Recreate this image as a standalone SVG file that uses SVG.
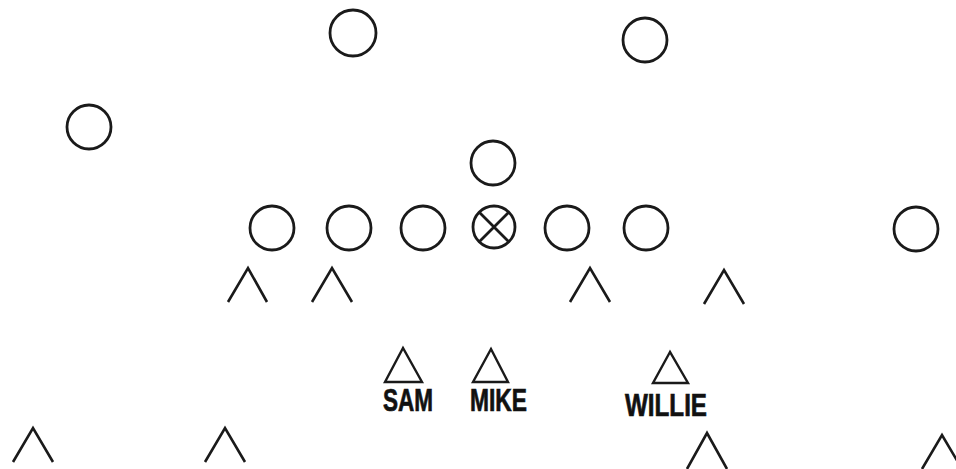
<svg xmlns="http://www.w3.org/2000/svg" width="956" height="469" viewBox="0 0 956 469">
<style>
.o{fill:none;stroke:#1a1a1a;stroke-width:2.8}
.v{fill:none;stroke:#1a1a1a;stroke-width:2.6;stroke-linejoin:miter}
.t{fill:none;stroke:#1a1a1a;stroke-width:2.4}
.lbl{font-family:"Liberation Sans",Arial,sans-serif;font-weight:bold;font-size:31px;fill:#111;stroke:#111;stroke-width:0.7}
</style>
<rect width="956" height="469" fill="#fff"/>
<g id="offense">
<g id="o1"><circle class="o" cx="353" cy="33" r="23"/></g>
<g id="o2"><circle class="o" cx="645" cy="40" r="22"/></g>
<g id="o3"><circle class="o" cx="89" cy="127" r="22"/></g>
<g id="o4"><circle class="o" cx="493" cy="163" r="22"/></g>
<g id="o5"><circle class="o" cx="272" cy="228" r="22"/></g>
<g id="o6"><circle class="o" cx="349" cy="228" r="22"/></g>
<g id="o7"><circle class="o" cx="423" cy="228" r="22"/></g>
<g id="center"><circle class="o" cx="494" cy="227" r="21"/><path class="o" d="M479 212L509 242M509 212L479 242"/></g>
<g id="o8"><circle class="o" cx="567" cy="228" r="22"/></g>
<g id="o9"><circle class="o" cx="646" cy="228" r="22"/></g>
<g id="o10"><circle class="o" cx="916" cy="229" r="22"/></g>
</g>
<g id="defense">
<g id="d1"><path class="v" d="M228 302L248 268L267 302"/></g>
<g id="d2"><path class="v" d="M312 302L332 268L352 302"/></g>
<g id="d3"><path class="v" d="M570 302L590 268L610 302"/></g>
<g id="d4"><path class="v" d="M704 304L724 270L744 304"/></g>
<g id="d5"><path class="v" d="M13 462L33 428L53 462"/></g>
<g id="d6"><path class="v" d="M205 462L225 428L245 462"/></g>
<g id="d7"><path class="v" d="M687 469L707 433L727 469"/></g>
<g id="d8"><path class="v" d="M922 469L942 435L962 469"/></g>
<g id="sam"><path class="t" d="M403 348L385 382L422 382Z"/><text class="lbl" x="383" y="411" textLength="50" lengthAdjust="spacingAndGlyphs">SAM</text></g>
<g id="mike"><path class="t" d="M491 349L473 382L508 382Z"/><text class="lbl" x="470" y="411" textLength="57" lengthAdjust="spacingAndGlyphs">MIKE</text></g>
<g id="willie"><path class="t" d="M670 352L653 383L688 383Z"/><text class="lbl" x="625" y="416" textLength="82" lengthAdjust="spacingAndGlyphs">WILLIE</text></g>
</g>
<g id="connectors"/>
</svg>
